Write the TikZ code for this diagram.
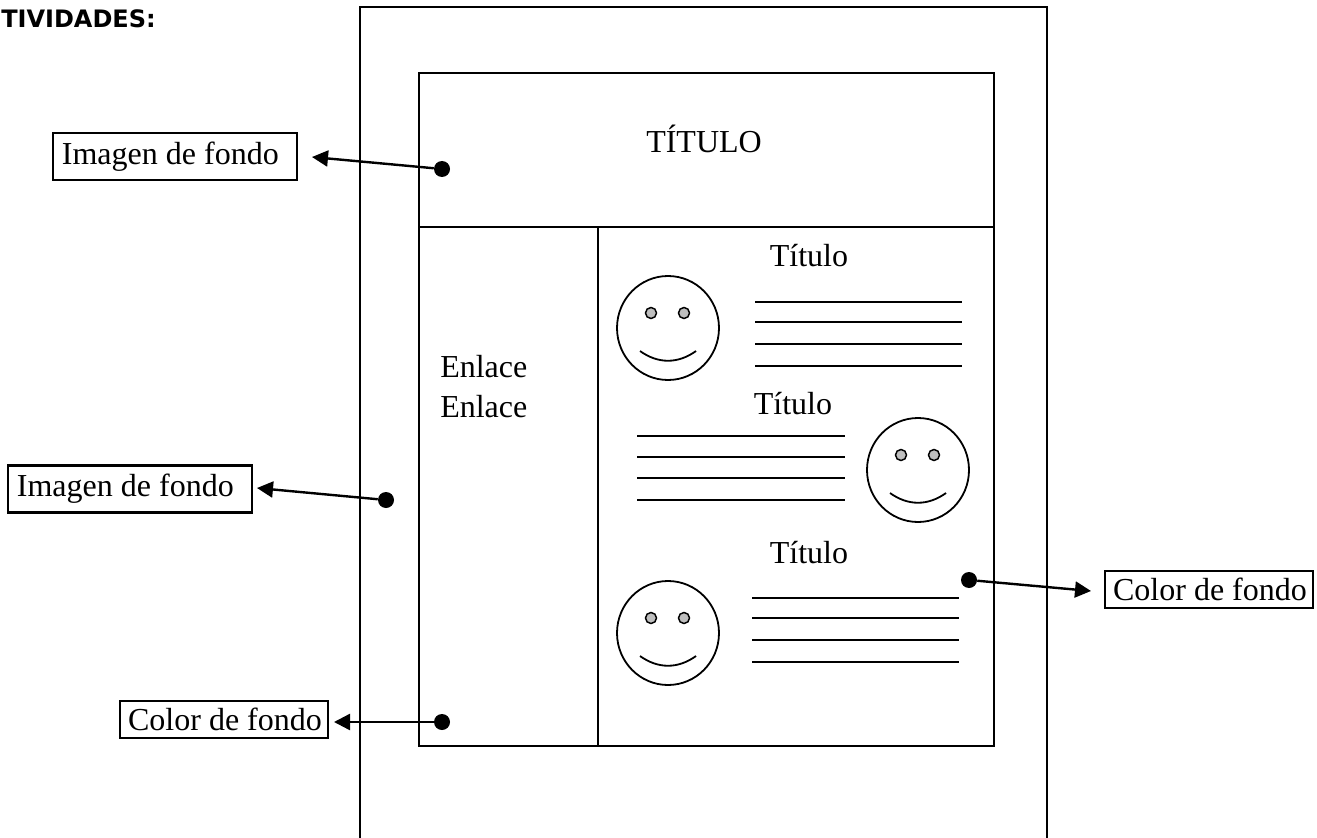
\documentclass[tikz,border=0pt]{standalone}
\usepackage{fontspec}
\setmainfont{Liberation Serif}
\newfontfamily\headfont{DejaVu Sans}
\usetikzlibrary{arrows.meta}

\tikzset{
  every node/.style={font=\fontsize{24}{28}\selectfont},
  frame/.style={line width=1.7pt},
  imgbox/.style={draw,line width=1.6pt,minimum width=183pt,minimum height=35.25pt,inner xsep=6.5pt,inner ysep=0pt,anchor=center},
  colbox/.style={draw,line width=1.5pt,minimum width=156pt,minimum height=27.75pt,inner xsep=4.5pt,inner ysep=0pt},
  dot/.style={circle,fill=black,inner sep=0pt,minimum size=12pt},
  face/.style={line width=1.35pt},
  eye/.style={line width=1.1pt,fill=black!25},
  txtline/.style={line width=1.5pt},
  pointer/.style={draw,->,line width=1.8pt}
}

\begin{document}
\begin{tikzpicture}[x=0.75pt,y=-0.75pt,>={Triangle[length=12pt,width=12pt]}]

\useasboundingbox (0,0) rectangle (1317,838);

\node[anchor=west,inner sep=0pt,font=\headfont\bfseries\fontsize{18}{22}\selectfont] (act) at (1,19) {TIVIDADES:};

% page and layout
\draw[line width=2.1pt] (360,838) -- (360,7) -- (1047,7) -- (1047,838);
\draw[frame] (419,73) rectangle (994,746);
\draw[frame] (419,227) -- (994,227);
\draw[frame] (598,227) -- (598,746);

\node (titulo) at (704,139) {TÍTULO};
\node (tit1) at (809,256) {Título};
\node (tit2) at (793,404) {Título};
\node (tit3) at (809,553) {Título};
\node[anchor=west,inner sep=0pt] (enl1) at (440,367) {Enlace};
\node[anchor=west,inner sep=0pt] (enl2) at (440,407) {Enlace};

% faces
\foreach \fx/\fy in {668/328,918/470,668/633} {
  \draw[face] (\fx,\fy) ellipse (51 and 52);
  \draw[eye] (\fx-17,\fy-15) circle (5.5);
  \draw[eye] (\fx+16,\fy-15) circle (5.5);
  \draw[face] (\fx-28,\fy+23) .. controls (\fx-10,\fy+36) and (\fx+10,\fy+36) .. (\fx+28,\fy+23);
}

% text lines
\foreach \ly in {302,322,344,366} \draw[txtline] (755,\ly) -- (962,\ly);
\foreach \ly in {436,457,478,500} \draw[txtline] (637,\ly) -- (845,\ly);
\foreach \ly in {598,618,640,662} \draw[txtline] (752,\ly) -- (959,\ly);

% labels
\node[imgbox] (img1) at (175,156.5) {Imagen de fondo\kern7pt};
\node[imgbox] (img2) at (130,489) {Imagen de fondo\kern7pt};
\node[colbox] (col1) at (224,719.5) {\kern1.5pt Color de fondo};
\node[colbox] (col2) at (1209,589.5) {\kern1.5pt Color de fondo};

\node[dot] (d1) at (442,169) {};
\node[dot] (d2) at (386,500) {};
\node[dot] (d3) at (442,722) {};
\node[dot] (d4) at (969,580) {};

\coordinate (a1) at (312,157);
\coordinate (a2) at (257,488);
\coordinate (a3) at (334,722);
\coordinate (a4) at (1091,591);

\path[pointer] (d1) -- (a1);
\path[pointer] (d2) -- (a2);
\path[pointer] (d3) -- (a3);
\path[pointer] (d4) -- (a4);

\end{tikzpicture}
\end{document}
